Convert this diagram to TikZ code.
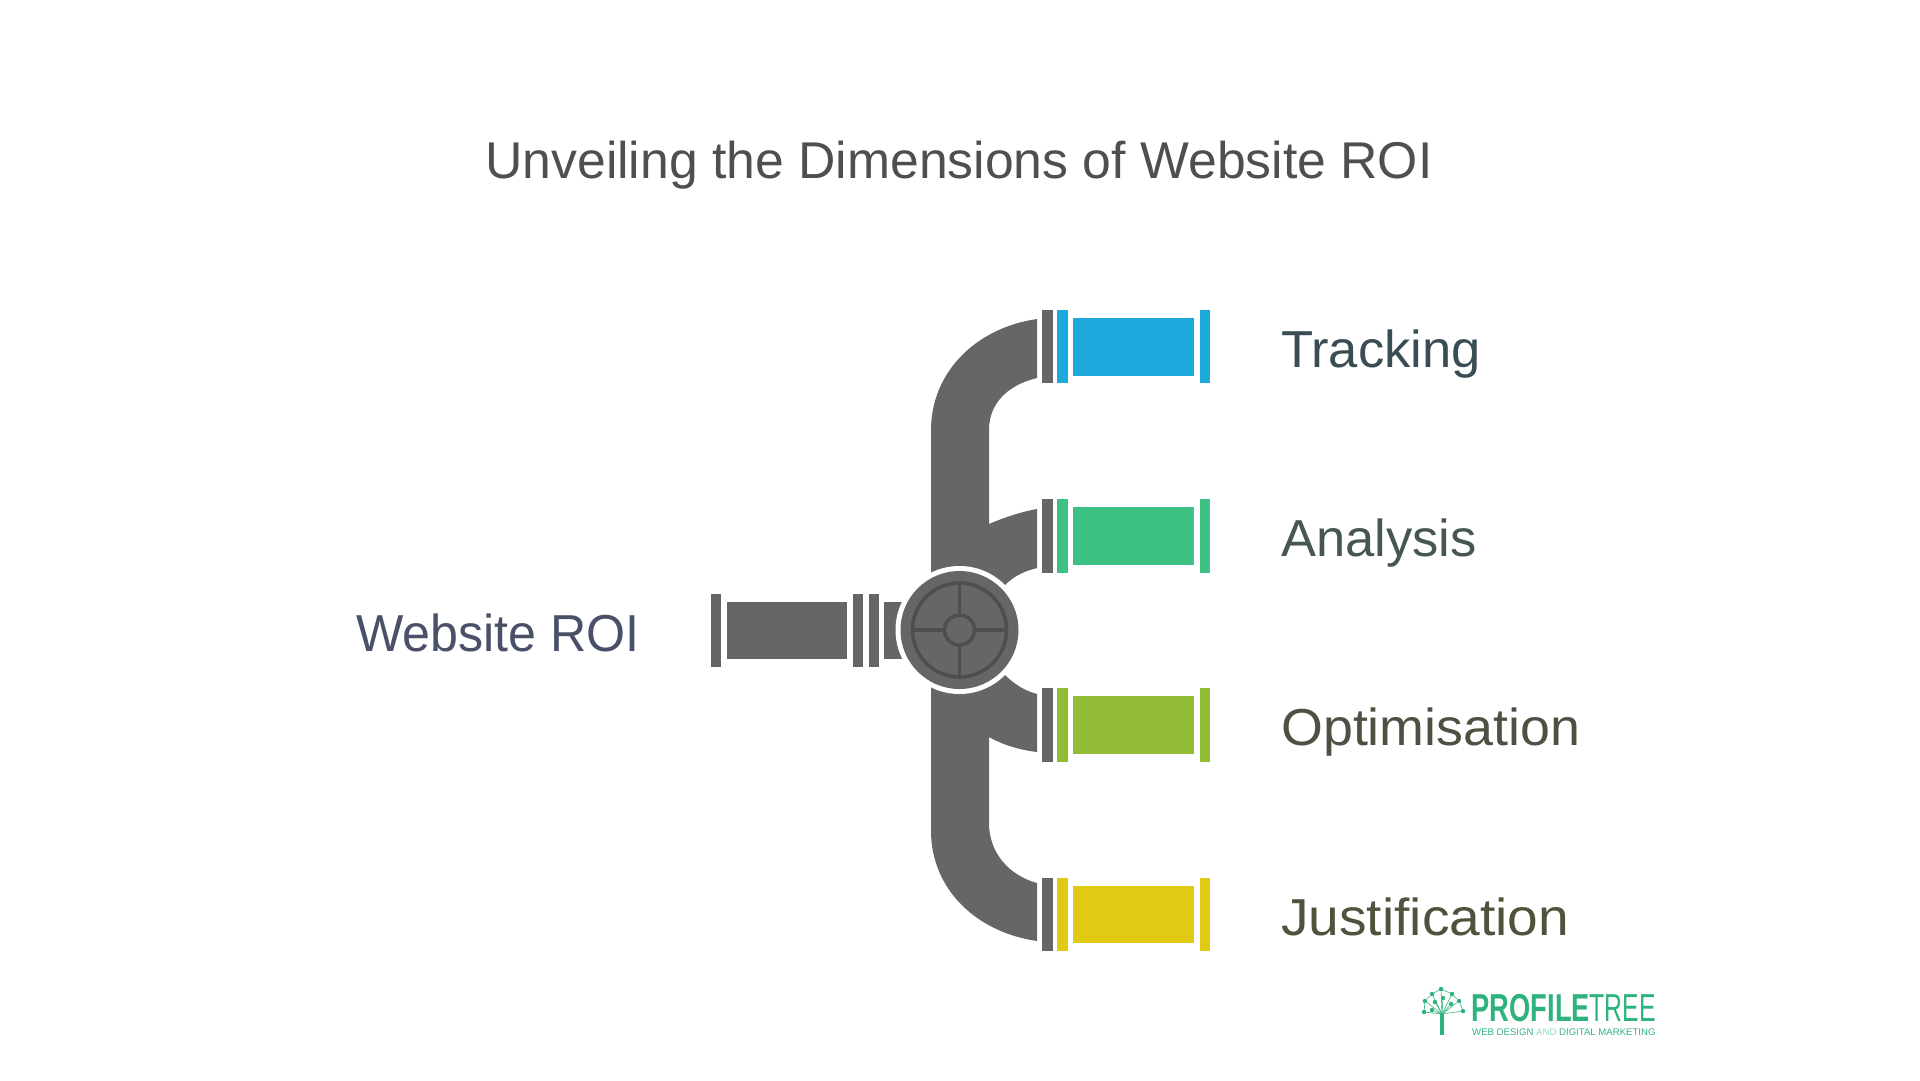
\documentclass[tikz,border=0pt]{standalone}
\usepackage{fontspec}
\setmainfont{Liberation Sans}
\definecolor{pipegray}{HTML}{666666}
\definecolor{spokegray}{HTML}{4E4E4E}
\definecolor{titlegray}{HTML}{4F4F4F}
\definecolor{roiink}{HTML}{4A5068}
\definecolor{trackink}{HTML}{3A4C54}
\definecolor{analysisink}{HTML}{465654}
\definecolor{optimink}{HTML}{4E5142}
\definecolor{justink}{HTML}{52513C}
\definecolor{trackblue}{HTML}{1EA9DC}
\definecolor{analysisgreen}{HTML}{3CC384}
\definecolor{optimolive}{HTML}{92BC38}
\definecolor{justyellow}{HTML}{E0CA14}
\definecolor{logogreen}{HTML}{2FB37E}
\tikzset{
    label/.style={anchor=base west, inner sep=0pt, font=\fontsize{52}{60}\selectfont},
    logotext/.style={anchor=base west, inner sep=0pt, text=logogreen},
    logodot/.style={circle, fill=logogreen, inner sep=0pt, minimum size=4.5pt},
}
\begin{document}
\begin{tikzpicture}[x=1pt, y=-1pt]
    \useasboundingbox (0, 0) rectangle (1920, 1080);

    % Draw title and labels
    \node[anchor=base, font=\fontsize{51.7}{60}\selectfont, text=titlegray, inner sep=0pt] (title) at (959, 178) {Unveiling the Dimensions of Website ROI};
    \node[label, text=roiink, xscale=0.965] (roi) at (356, 651) {Website ROI};
    \node[label, text=trackink, xscale=1.01] (tracking) at (1281, 367) {Tracking};
    \node[label, text=analysisink, xscale=1.01] (analysis) at (1281, 556.5) {Analysis};
    \node[label, text=optimink, xscale=1.035] (optimisation) at (1281, 745.5) {Optimisation};
    \node[label, text=justink, xscale=1.06] (justification) at (1281, 935) {Justification};

    % Draw pipe
    \fill[pipegray] (1037, 319) .. controls (975, 328) and (931, 373) .. (931, 430)
        -- (931, 831) .. controls (931, 888) and (975, 932) .. (1037, 941)
        -- (1037, 883) .. controls (1008, 875) and (989, 852) .. (989, 823)
        -- (989, 737) .. controls (1003, 745) and (1020, 750) .. (1037, 752)
        -- (1037, 694) .. controls (1026, 691) and (1016, 686) .. (1004, 674)
        -- (1004, 586) .. controls (1016, 574) and (1026, 571) .. (1037, 568)
        -- (1037, 509) .. controls (1020, 512) and (1003, 518) .. (989, 524)
        -- (989, 430) .. controls (989, 403) and (1008, 385) .. (1037, 378) -- cycle;

    % Draw inlet
    \fill[pipegray] (710.5, 594) rectangle (721, 667);
    \fill[pipegray] (726.5, 602) rectangle (847, 659);
    \fill[pipegray] (852.5, 594) rectangle (863, 667);
    \fill[pipegray] (868.5, 594) rectangle (879, 667);
    \fill[pipegray] (884, 602) rectangle (910, 659);

    % Draw outlets
    \foreach \rowy/\rowcol in {346.7/trackblue, 536/analysisgreen, 725/optimolive, 914.3/justyellow} {
        \fill[pipegray] (1041.5, \rowy-36.7) rectangle (1052.5, \rowy+36.7);
        \fill[\rowcol] (1057, \rowy-36.7) rectangle (1068.4, \rowy+36.7);
        \fill[\rowcol] (1073, \rowy-28.8) rectangle (1194.4, \rowy+28.8);
        \fill[\rowcol] (1199.5, \rowy-36.7) rectangle (1210, \rowy+36.7);
    }

    % Draw valve
    \node[circle, fill=white, inner sep=0pt, minimum size=128pt] (ring) at (959.5, 630) {};
    \node[circle, fill=pipegray, inner sep=0pt, minimum size=118pt] (valve) at (959.5, 630) {};
    \node[circle, draw=spokegray, line width=3.5pt, inner sep=0pt, minimum size=94pt] (wheel) at (959.5, 630) {};
    \node[circle, draw=spokegray, line width=3.5pt, inner sep=0pt, minimum size=30pt] (hub) at (959.5, 630) {};
    \draw[spokegray, line width=3.5pt] (wheel.north) -- (hub.north);
    \draw[spokegray, line width=3.5pt] (wheel.south) -- (hub.south);
    \draw[spokegray, line width=3.5pt] (wheel.west) -- (hub.west);
    \draw[spokegray, line width=3.5pt] (wheel.east) -- (hub.east);

    % Draw logo
    \node[logotext, xscale=0.70, font=\fontsize{39}{44}\selectfont\bfseries] (profile) at (1471.5, 1021) {PROFILE};
    \node[logotext, xscale=0.636, font=\fontsize{39}{44}\selectfont] (tree) at (1589.5, 1021) {TREE};
    \node[logotext, font=\fontsize{9.6}{11}\selectfont] (strap) at (1472, 1035) {WEB DESIGN {\color{logogreen!50}AND} DIGITAL MARKETING};
    \coordinate (fork) at (1442, 1014);
    \coordinate (root) at (1442, 1035);
    \foreach \leafid/\leafx/\leafy in {a/1425/1001, b/1432/994, c/1441/989, d/1452/994, e/1459/1001, f/1463/1011, g/1435/1002, h/1443/998, i/1451/1004, j/1424/1012, k/1432/1010} {
        \node[logodot] (leaf\leafid) at (\leafx, \leafy) {};
        \draw[logogreen, line width=0.6pt] (fork) -- (leaf\leafid);
    }
    \draw[logogreen, line width=0.6pt] (leafj) -- (leafa) -- (leafb) -- (leafc) -- (leafd) -- (leafe) -- (leaff);
    \draw[logogreen, line width=3.5pt] (fork) -- (root);
\end{tikzpicture}
\end{document}
